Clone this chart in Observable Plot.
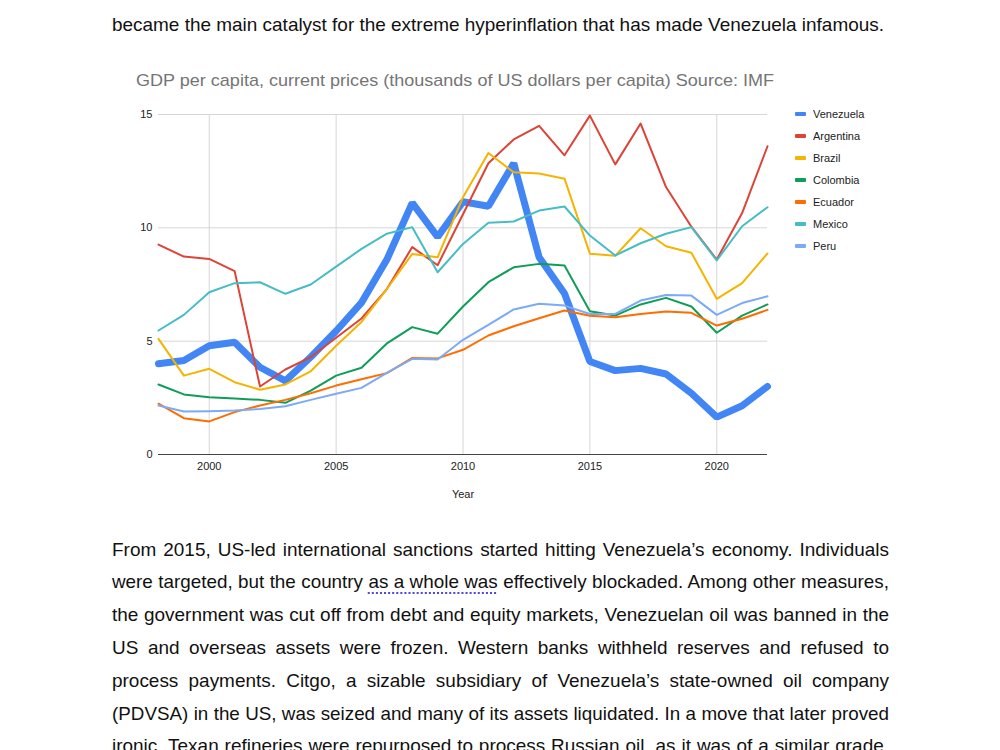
<!DOCTYPE html>
<html><head><meta charset="utf-8">
<script src="https://cdn.jsdelivr.net/npm/d3@7"></script>
<script src="https://cdn.jsdelivr.net/npm/@observablehq/plot@0.6"></script>
<style>
html,body{margin:0;padding:0;background:#fff;}
body{width:1000px;height:750px;overflow:hidden;position:relative;font-family:"Liberation Sans",Arial,sans-serif;}
.tl{position:absolute;left:112px;white-space:nowrap;font-size:18.5px;line-height:22px;color:#111;transform-origin:0 0;}
.just{text-align:justify;text-align-last:justify;white-space:normal;}
.ul{text-decoration:underline dotted #4b4bd8;text-underline-offset:4px;text-decoration-thickness:2px;}
#title{position:absolute;left:136px;top:71px;font-size:17px;color:#757575;white-space:nowrap;transform-origin:0 0;}
#chart{position:absolute;left:0;top:100px;}
#xlabel{position:absolute;top:488px;left:0;width:926px;text-align:center;font-size:11px;color:#222;}
.lg{position:absolute;left:795px;font-size:11px;color:#222;height:14px;line-height:14px;}
.lg span.sw{position:absolute;left:0;top:5px;width:11px;height:4px;border-radius:1px;}
.lg span.tx{position:absolute;left:18px;top:0;white-space:nowrap;}
#meas{position:absolute;left:0;top:0;visibility:hidden;white-space:nowrap;font-size:18.5px;}
</style>
</head><body>
<span id="meas"></span>
<script>
const years = [1998,1999,2000,2001,2002,2003,2004,2005,2006,2007,2008,2009,2010,2011,2012,2013,2014,2015,2016,2017,2018,2019,2020,2021,2022];
const countries = ["Venezuela","Argentina","Brazil","Colombia","Ecuador","Mexico","Peru"];
const colors = ["#4285f4","#db4437","#f4b400","#0f9d58","#ff6d01","#46bdc6","#7baaf7"];
const venezuela = [4.0,4.15,4.8,4.95,3.85,3.25,4.3,5.45,6.7,8.6,11.1,9.6,11.15,10.95,12.85,8.7,7.1,4.1,3.7,3.8,3.55,2.7,1.65,2.15,3.0];
const argentina = [9.26,8.73,8.63,8.09,3.0,3.75,4.3,5.15,6.0,7.3,9.15,8.35,10.6,12.85,13.9,14.5,13.2,14.95,12.8,14.6,11.8,10.05,8.6,10.65,13.6];
const brazil = [5.1,3.48,3.78,3.19,2.86,3.09,3.67,4.8,5.85,7.3,8.85,8.7,11.35,13.3,12.45,12.4,12.17,8.86,8.77,9.98,9.19,8.9,6.87,7.56,8.87];
const colombia = [3.09,2.65,2.53,2.47,2.41,2.28,2.82,3.48,3.83,4.9,5.62,5.33,6.53,7.6,8.26,8.41,8.34,6.32,6.13,6.62,6.91,6.53,5.37,6.13,6.62];
const ecuador = [2.24,1.6,1.46,1.87,2.16,2.41,2.7,3.04,3.32,3.59,4.26,4.24,4.62,5.25,5.66,6.01,6.35,6.12,6.06,6.2,6.31,6.25,5.69,5.99,6.38];
const mexico = [5.47,6.16,7.16,7.56,7.6,7.09,7.5,8.29,9.07,9.74,10.03,8.04,9.29,10.22,10.28,10.76,10.94,9.66,8.78,9.32,9.74,10.03,8.56,10.07,10.91];
const peru = [2.16,1.9,1.91,1.94,2.01,2.13,2.41,2.68,2.94,3.6,4.22,4.19,5.06,5.72,6.4,6.65,6.57,6.2,6.2,6.79,7.04,7.01,6.16,6.68,6.98];
const xTicks = [2000,2005,2010,2015,2020];
const yTicks = [0,5,10,15];
const titleText = "GDP per capita, current prices (thousands of US dollars per capita) Source: IMF";
const xLabel = "Year";
const topLine = "became the main catalyst for the extreme hyperinflation that has made Venezuela infamous.";
const paraLines = [
  "From 2015, US-led international sanctions started hitting Venezuela’s economy. Individuals",
  "were targeted, but the country <span class=\"ul\">as a whole was</span> effectively blockaded. Among other measures,",
  "the government was cut off from debt and equity markets, Venezuelan oil was banned in the",
  "US and overseas assets were frozen. Western banks withheld reserves and refused to",
  "process payments. Citgo, a sizable subsidiary of Venezuela’s state-owned oil company",
  "(PDVSA) in the US, was seized and many of its assets liquidated. In a move that later proved",
  "ironic. Texan refineries were repurposed to process Russian oil, as it was of a similar grade,"
];

const series = [venezuela,argentina,brazil,colombia,ecuador,mexico,peru];
const data = countries.flatMap((c,i)=>years.map((y,j)=>({country:c,year:y,value:series[i][j]})));

const body = document.body;
const meas = document.getElementById("meas");
function natWidth(html){ meas.innerHTML = html; return meas.getBoundingClientRect().width; }
const scale = 772 / natWidth(topLine);

function addLine(html, centerY, justify){
  const d = document.createElement("div");
  d.className = "tl" + (justify ? " just" : "");
  d.style.top = (centerY - 10) + "px";
  let s = scale;
  if (justify) {
    const w = natWidth(html) + 2;
    s = Math.min(scale, 777 / w);
    d.style.width = (777 / s) + "px";
  }
  d.style.transform = `scaleX(${s})`;
  d.innerHTML = html;
  body.appendChild(d);
}
addLine(topLine, 24, false);
const lineYs = [549,581,614,647,680,713,745];
paraLines.forEach((l,i)=>addLine(l, lineYs[i], true));
meas.remove();

const t = document.createElement("div");
t.id = "title"; t.textContent = titleText;
body.appendChild(t);
t.style.transform = `scaleX(${638 / t.getBoundingClientRect().width})`;

const chart = Plot.plot({
  width: 1000, height: 414,
  marginLeft: 158, marginRight: 233, marginTop: 14, marginBottom: 60,
  style: {fontFamily: '"Liberation Sans", Arial, sans-serif', fontSize: "11px", color: "#222", background: "transparent", overflow: "visible"},
  x: {domain: [1998, 2022], ticks: xTicks, tickFormat: d => String(d)},
  y: {domain: [0, 15], ticks: yTicks},
  color: {domain: countries, range: colors},
  marks: [
    Plot.gridX(xTicks, {stroke: "#d6d6d6", strokeOpacity: 1}),
    Plot.gridY(yTicks.filter(v=>v>0), {stroke: "#d6d6d6", strokeOpacity: 1}),
    Plot.ruleY([0], {stroke: "#444", strokeWidth: 1}),
    Plot.axisX(xTicks, {tickSize: 0, tickPadding: 8, label: null, tickFormat: d => String(d)}),
    Plot.axisY(yTicks, {tickSize: 0, tickPadding: 6, label: null}),
    Plot.line(data.filter(d=>d.country==="Venezuela"), {x: "year", y: "value", stroke: "country", strokeWidth: 7, strokeLinejoin: "miter"}),
    Plot.line(data.filter(d=>d.country!=="Venezuela"), {x: "year", y: "value", z: "country", stroke: "country", strokeWidth: 2})
  ]
});
chart.id = "chart";
body.appendChild(chart);

const xl = document.createElement("div");
xl.id = "xlabel"; xl.textContent = xLabel;
body.appendChild(xl);

countries.forEach((c,i)=>{
  const g = document.createElement("div");
  g.className = "lg";
  g.style.top = (114 + i*22 - 7) + "px";
  g.innerHTML = `<span class="sw" style="background:${colors[i]}"></span><span class="tx">${c}</span>`;
  body.appendChild(g);
});
</script>
</body></html>
